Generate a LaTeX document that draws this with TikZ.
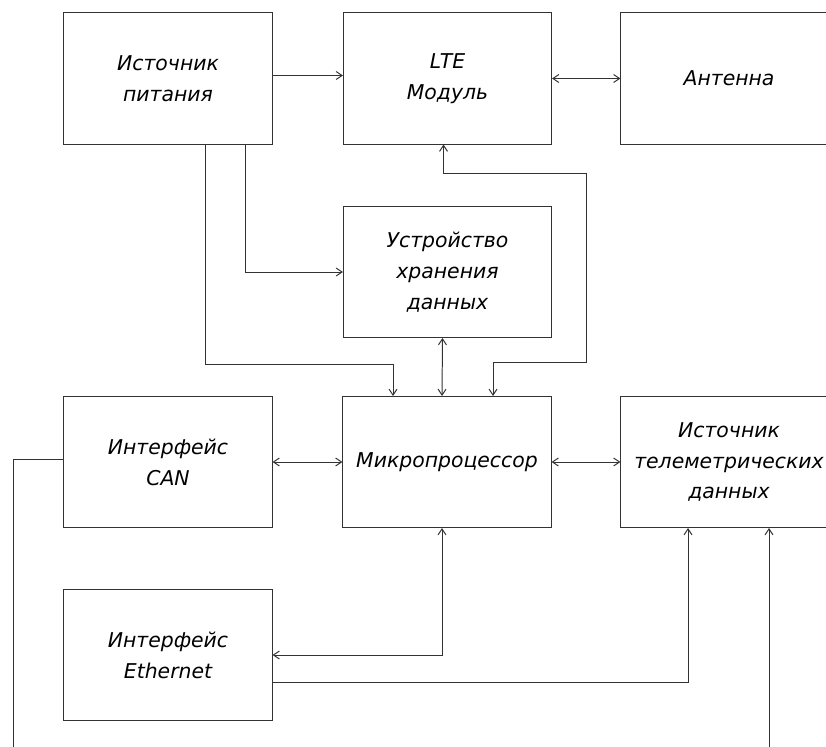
\documentclass[tikz,border=0pt]{standalone}
\usepackage{fontspec}
\setmainfont{DejaVu Sans}
\usetikzlibrary{arrows.meta,calc}

\tikzset{
    blk/.style={draw=black!80, line width=0.7pt, minimum width=5.2cm, minimum height=3.275cm,
        align=center, font=\itshape\fontsize{14.5pt}{22pt}\selectfont},
    wideblk/.style={blk, minimum width=5.4cm},
    ln/.style={draw=black!80, line width=0.7pt},
    tip/.style={ln, arrows={-Straight Barb[length=1.5mm,width=2mm]}},
    tips/.style={ln, arrows={Straight Barb[length=1.5mm,width=2mm]-Straight Barb[length=1.5mm,width=2mm]}}
}

\begin{document}
\begin{tikzpicture}[x=0.025cm, y=-0.025cm] %px
            \useasboundingbox (0,0) rectangle (826,747);

            % blocks
            \node[blk] (pwr) at (168,78.5) {Источник\\питания};
            \node[blk] (lte) at (447.5,78.5) {LTE\\Модуль};
            \node[wideblk] (ant) at (729,78.5) {Антенна};
            \node[blk] (mem) at (447.5,272) {Устройство\\хранения\\данных};
            \node[blk] (can) at (168,462) {Интерфейс\\CAN};
            \node[blk] (mcu) at (447,462) {Микропроцессор};
            \node[wideblk] (tel) at (729,462) {Источник\\телеметрических\\данных};
            \node[blk] (eth) at (168,655) {Интерфейс\\Ethernet};

            \coordinate (canout) at (13,747);
            \coordinate (telin) at (769,747);

            % links
            \draw[tip] ($(pwr.east)+(0,-3)$) -- ($(lte.west)+(0,-3)$);
            \draw[tips] (lte.east) -- (ant.west);
            \draw[tip] ($(pwr.south)+(77,0)$) |- (mem.west);
            \draw[tip] ($(pwr.south)+(37,0)$) |- ($(mcu.north)+(-54,-32)$) -- ($(mcu.north)+(-54,0)$);
            \draw[tips] ($(mem.south)+(-5,0)$) -- ($(mcu.north)+(-5,0)$);
            \draw[tips] ($(mcu.north)+(46,0)$) -- ++(0,-34) -| ($(mem.east)+(34,0)$) |- ($(lte.south)+(-4,29)$) -- ($(lte.south)+(-4,0)$);

            \draw[tips] (can.east) -- (mcu.west);
            \draw[tips] (mcu.east) -- (tel.west);
            \draw[ln] ($(can.west)+(0,-3)$) -| (canout);

            \draw[tips] ($(mcu.south)+(-5,0)$) |- (eth.east);
            \draw[tip] ($(eth.east)+(0,27)$) -| ($(tel.south)+(-41,0)$);
            \draw[tip] (telin) -- (telin |- tel.south);
        \end{tikzpicture}
\end{document}
